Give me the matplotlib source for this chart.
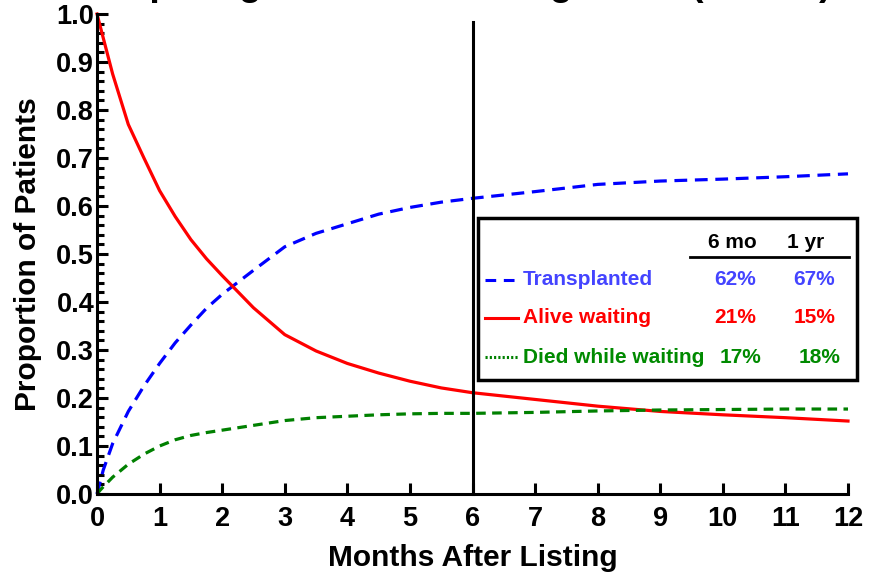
import numpy as np
import matplotlib
matplotlib.use("Agg")
import matplotlib.pyplot as plt
from matplotlib.ticker import MultipleLocator, FormatStrFormatter
from matplotlib.patches import Rectangle

plt.rcParams['font.family'] = ['Liberation Sans', 'DejaVu Sans']
plt.rcParams['font.weight'] = 'bold'

# months after listing
months = [0, 0.05, 0.1, 0.25, 0.5, 0.75, 1, 1.25, 1.5, 1.75, 2, 2.5, 3, 3.5, 4, 4.5,
          5, 5.5, 6, 7, 8, 9, 10, 11, 12]
transplanted = [0, 0.025, 0.05, 0.105, 0.172, 0.225, 0.272, 0.315, 0.352, 0.387, 0.416,
                0.466, 0.515, 0.543, 0.563, 0.583, 0.597, 0.608, 0.616, 0.63, 0.645,
                0.652, 0.656, 0.661, 0.667]
alive = [1.0, 0.975, 0.95, 0.875, 0.77, 0.70, 0.632, 0.578, 0.53, 0.49, 0.455, 0.388,
         0.332, 0.298, 0.272, 0.252, 0.235, 0.221, 0.211, 0.197, 0.183, 0.172,
         0.165, 0.159, 0.152]
died = [0, 0.008, 0.015, 0.035, 0.062, 0.083, 0.10, 0.113, 0.122, 0.128, 0.133, 0.143,
        0.153, 0.159, 0.162, 0.165, 0.167, 0.168, 0.168, 0.170, 0.173, 0.175,
        0.176, 0.177, 0.177]

labels = ["Transplanted", "Alive waiting", "Died while waiting"]
pct_6mo = ["62%", "21%", "17%"]
pct_1yr = ["67%", "15%", "18%"]

line_cols = ['#0000ff', '#ff0000', '#008000']
text_cols = ['#4444ff', '#ff0000', '#008a00']

fig = plt.figure(figsize=(8.69, 5.79), dpi=100)
ax = fig.add_axes([97/869, 1-494/579, 751/869, 480/579])

ax.plot(months, transplanted, color=line_cols[0], lw=2.3, dashes=(4, 2.4), clip_on=False)
ax.plot(months, alive, color=line_cols[1], lw=2.3, clip_on=False)
ax.plot(months, died, color=line_cols[2], lw=2.3, dashes=(3, 2), clip_on=False)
ax.plot([6, 6], [0, 0.983], color='black', lw=2.2, clip_on=False)

ax.set_xlim(0, 12)
ax.set_ylim(0, 1.0)
ax.xaxis.set_major_locator(MultipleLocator(1))
ax.yaxis.set_major_locator(MultipleLocator(0.1))
ax.yaxis.set_minor_locator(MultipleLocator(0.02))
ax.yaxis.set_major_formatter(FormatStrFormatter('%.1f'))

for s in ['top', 'right']:
    ax.spines[s].set_visible(False)
for s in ['left', 'bottom']:
    ax.spines[s].set_linewidth(2.2)

ax.tick_params(axis='both', which='major', direction='in', length=8, width=2.2,
               labelsize=19.5)
ax.tick_params(axis='y', which='minor', direction='in', length=5, width=2.2)
ax.tick_params(axis='y', which='major', pad=2)
ax.tick_params(axis='x', which='major', pad=9)
for t in ax.get_xticklabels() + ax.get_yticklabels():
    t.set_fontweight('bold')

ax.set_xlabel("Months After Listing", fontsize=21.5, fontweight='bold', labelpad=8)
ax.set_ylabel("Proportion of Patients", fontsize=21.5, fontweight='bold', labelpad=10)

# title, cut off at the top edge as in the slide
fig.text(66/869, 1 + 5/579, "Competing Risks on Waiting List",
         fontsize=27, fontweight='bold', ha='left', va='baseline')
fig.text(690/869, 1 + 5/579, "(Adults)",
         fontsize=27, fontweight='bold', ha='left', va='baseline')

# legend table box
ax.add_patch(Rectangle((6.09, 0.2375), 6.05, 0.3375, fill=True, lw=0,
                       facecolor='white', clip_on=False, zorder=4))
ax.add_patch(Rectangle((6.09, 0.2375), 6.05, 0.3375, fill=False, lw=2.5,
                       edgecolor='black', clip_on=False, zorder=5))
ax.text(10.15, 0.523, "6 mo", fontsize=15, fontweight='bold', ha='center', va='center', zorder=6)
ax.text(11.33, 0.523, "1 yr", fontsize=15, fontweight='bold', ha='center', va='center', zorder=6)
ax.plot([9.48, 12.02], [0.494, 0.494], color='black', lw=2, clip_on=False, zorder=6)

row_y = [0.446, 0.367, 0.285]
sample_styles = [dict(dashes=(3.5, 2.5)), dict(), dict(dashes=(0.7, 0.7))]
c6 = [10.2, 10.2, 10.29]
c12 = [11.46, 11.46, 11.55]
for i in range(3):
    ax.plot([6.2, 6.72], [row_y[i], row_y[i]], color=line_cols[i], lw=2.2,
            clip_on=False, zorder=6, **sample_styles[i])
    ax.text(6.81, row_y[i], labels[i], color=text_cols[i], fontsize=15,
            fontweight='bold', ha='left', va='center', zorder=6)
    ax.text(c6[i], row_y[i], pct_6mo[i], color=text_cols[i], fontsize=15,
            fontweight='bold', ha='center', va='center', zorder=6)
    ax.text(c12[i], row_y[i], pct_1yr[i], color=text_cols[i], fontsize=15,
            fontweight='bold', ha='center', va='center', zorder=6)

fig.savefig("out.png", dpi=100)
